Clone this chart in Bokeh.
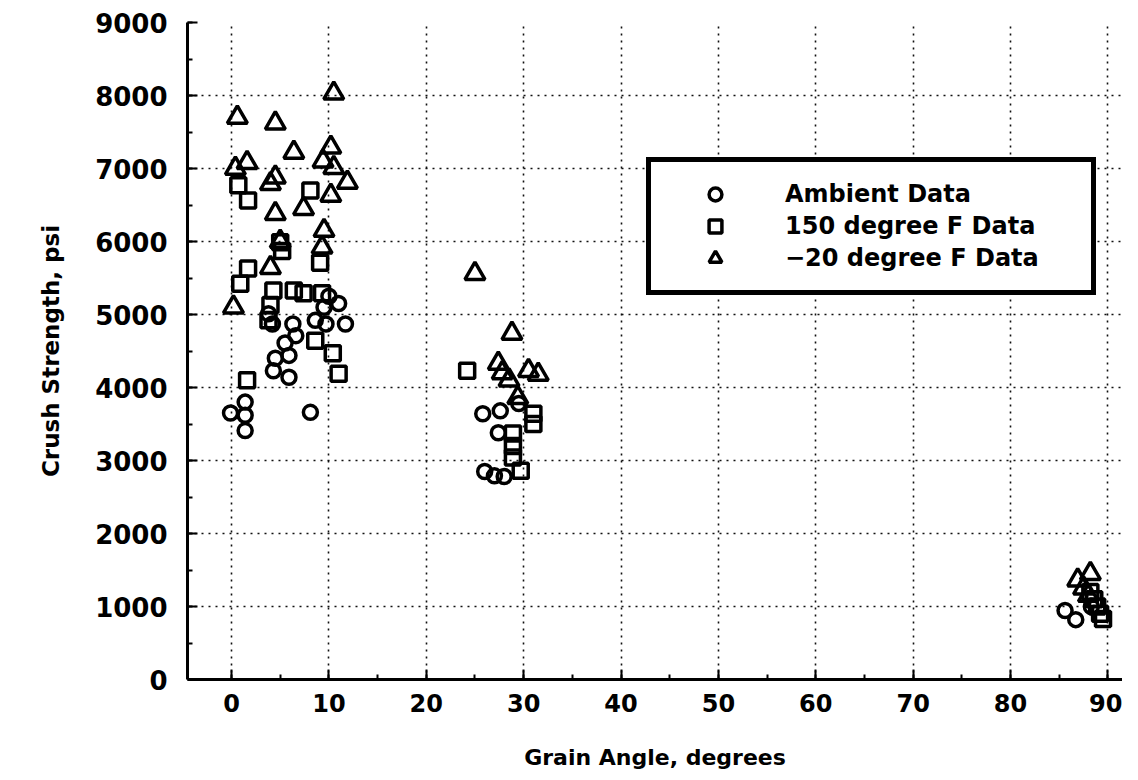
import math
from bokeh.plotting import figure
from bokeh.models import SingleIntervalTicker, Range1d, Title, Legend
from bokeh.embed import file_html
from bokeh.resources import INLINE

# ---- data ----
ambient_x = [-0.1, 1.4, 1.4, 1.4, 8.1, 3.8, 4.2, 6.3, 5.5, 5.9, 4.5, 4.3, 5.9, 6.6,
             8.6, 9.7, 11.0, 11.7, 9.5, 10.0,
             25.8, 27.6, 27.4, 29.5, 26.0, 27.0, 28.0,
             85.6, 86.7, 88.3]
ambient_y = [3650, 3800, 3620, 3410, 3660, 5010, 4870, 4870, 4610, 4440, 4400, 4230, 4140, 4710,
             4920, 4870, 5150, 4870, 5100, 5250,
             3640, 3680, 3380, 3780, 2850, 2790, 2780,
             945, 820, 1000]

f150_x = [0.7, 1.7, 8.1, 5.0, 5.2, 9.1, 1.7, 0.9, 4.3, 6.4, 7.4, 9.3, 8.6, 10.4, 11.0, 3.8, 1.6, 4.0,
          24.2, 31.0, 31.0, 28.9, 28.9, 28.9, 29.7,
          88.6, 88.9, 89.2, 89.5, 88.2]
f150_y = [6770, 6560, 6700, 5990, 5870, 5710, 5630, 5420, 5330, 5330, 5290, 5290, 4640, 4470, 4190, 4920, 4100, 5130,
          4230, 3640, 3500, 3370, 3200, 3040, 2860,
          1100, 1000, 900, 830, 1200]

fm20_x = [0.6, 4.5, 10.5, 6.4, 10.2, 9.4, 10.5, 11.9, 0.4, 1.6, 4.5, 4.0, 10.2, 7.4, 4.5, 9.5, 9.3, 4.0, 0.2, 5.0,
          25.0, 28.8, 27.4, 27.8, 30.5, 31.5, 29.4, 28.5,
          88.2, 86.9, 87.5, 88.0]
fm20_y = [7700, 7620, 8030, 7220, 7290, 7100, 7010, 6810, 7000, 7080, 6880, 6790, 6630, 6450, 6380, 6150, 5920, 5640, 5100, 6000,
          5560, 4740, 4330, 4200, 4230, 4180, 3860, 4100,
          1450, 1360, 1250, 1150]

series_labels = ["Ambient Data", "150 degree F Data", "\u221220 degree F Data"]
x_title = "Grain Angle, degrees"
y_title = "Crush Strength, psi"

FONT = "DejaVu Sans"

p = figure(width=1122, height=778, output_backend="svg", toolbar_location=None,
           x_range=Range1d(-4.52, 91.5), y_range=Range1d(0, 9000),
           min_border_left=187, min_border_right=0, min_border_top=22, min_border_bottom=99)
p.outline_line_color = None
p.background_fill_color = "white"
p.border_fill_color = "white"

# grids
for g in (p.xgrid, p.ygrid):
    g.grid_line_color = "#111111"
    g.grid_line_dash = "2 5"
    g.grid_line_width = 1.6

p.xaxis.ticker = SingleIntervalTicker(interval=10, num_minor_ticks=2)
p.yaxis.ticker = SingleIntervalTicker(interval=1000, num_minor_ticks=2)

for ax in (p.xaxis, p.yaxis):
    ax.axis_line_width = 3
    ax.axis_line_color = "black"
    ax.major_tick_in = 10
    ax.major_tick_out = 0
    ax.minor_tick_in = 5
    ax.minor_tick_out = 0
    ax.major_tick_line_width = 2
    ax.minor_tick_line_width = 2
    ax.major_tick_line_color = "black"
    ax.minor_tick_line_color = "black"
    ax.major_label_text_font = FONT
    ax.major_label_text_font_style = "bold"
    ax.major_label_text_color = "black"

p.yaxis.major_label_text_font_size = "26px"
p.xaxis.major_label_text_font_size = "24px"
p.yaxis.major_label_standoff = 20
p.xaxis.major_label_standoff = 14

p.xaxis.axis_label = x_title
p.xaxis.axis_label_text_font = FONT
p.xaxis.axis_label_text_font_style = "bold"
p.xaxis.axis_label_text_font_size = "22px"
p.xaxis.axis_label_text_color = "black"
p.xaxis.axis_label_standoff = 30

# y title as a side title
ytitle = Title(text=y_title, align="center", standoff=58,
               text_font=FONT, text_font_style="bold", text_font_size="23px", text_color="black")
p.add_layout(ytitle, "left")

r1 = p.scatter(ambient_x, ambient_y, marker="circle", size=14, line_color="black",
               line_width=3.5, fill_alpha=0)
r2 = p.scatter(f150_x, f150_y, marker="square", size=15, line_color="black",
               line_width=3.5, fill_alpha=0)
r3 = p.scatter(fm20_x, fm20_y, marker="triangle", size=20, line_color="black",
               line_width=3.5, fill_alpha=0)

legend = Legend(items=[(series_labels[0], [r1]), (series_labels[1], [r2]), (series_labels[2], [r3])],
                location=(459, 384), margin=0, padding=16, spacing=0,
                glyph_width=96, glyph_height=32, label_height=32, label_width=290,
                label_standoff=22,
                label_text_font=FONT, label_text_font_style="bold", label_text_font_size="24px",
                label_text_color="black",
                border_line_color="black", border_line_width=5, border_line_alpha=1,
                background_fill_color="white", background_fill_alpha=1)
p.add_layout(legend)

open("out.html", "w").write(file_html(p, INLINE))
